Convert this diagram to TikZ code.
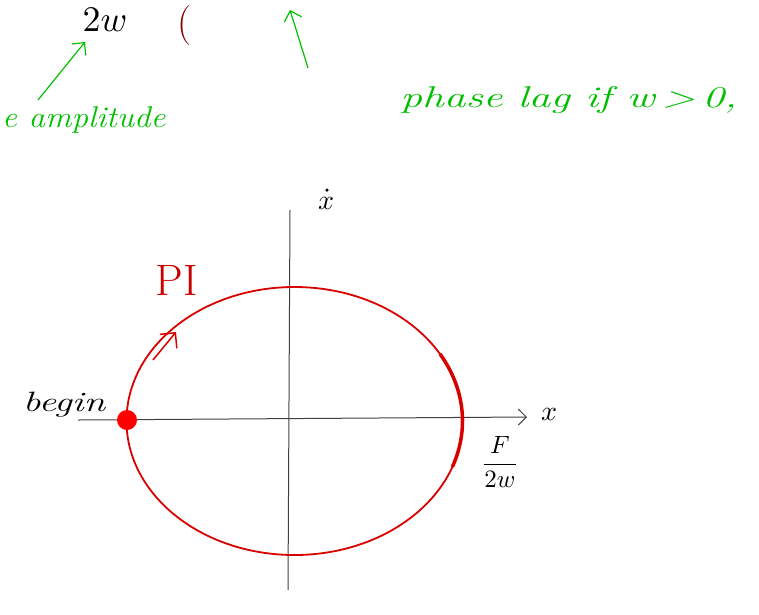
\documentclass[tikz,border=0pt]{standalone}
\usetikzlibrary{arrows.meta,calc}
\begin{document}
\begin{tikzpicture}[x=1pt,y=-1pt,
  hand/.style={font=\fontsize{30}{32}\selectfont\itshape},
  grn/.style={green!75!black, line width=1.2pt},
  axisline/.style={draw=black!75, line width=1pt},
  curve/.style={draw=red!85!black, line width=1.8pt}]
\useasboundingbox (0,0) rectangle (759,614);
% top fragments
\node[scale=3.6, text=black] (tw) at (105,20) {$2w$};
\node[font=\fontsize{40}{42}\selectfont, text=red!50!black] (par) at (185,26) {(};
% green annotations
\node[hand, text=green!75!black, anchor=west, inner sep=0pt, xscale=1.1] (amp) at (2,120) {e amplitude};
\node[hand, text=green!75!black, anchor=west, inner sep=0pt, xscale=1.45] (lag) at (400,100) {phase lag if w\,>\,0,};
\coordinate (ampA) at (38,100);
\coordinate (ampB) at (85,42);
\draw[grn, -{Straight Barb[length=9pt]}] (ampA) -- (ampB);
\coordinate (lagA) at (308,68);
\coordinate (lagB) at (290,10);
\draw[grn, -{Straight Barb[length=9pt]}] (lagA) -- (lagB);
% axes
\coordinate (xL) at (78,420);
\coordinate (xR) at (527,417);
\coordinate (yT) at (290,210);
\coordinate (yB) at (288,590);
\draw[axisline, -{Straight Barb[length=8pt]}] (xL) -- (xR);
\draw[axisline] (yT) -- (yB);
\node[scale=2.8] (xlab) at (549,414) {$x$};
\node[scale=2.8] (xdot) at (326,203) {$x$};
\fill (xdot.north) ++(1,3) circle[radius=1.8];
% ellipse
\coordinate (ctr) at (294.5,421);
\draw[curve] (ctr) ellipse [x radius=168, y radius=134];
\draw[red!85!black, line width=3.5pt] ($(ctr)+(30:168 and -134)$) arc[start angle=30, end angle=-20, x radius=168, y radius=-134];
% start dot and direction arrow
\node[circle, fill=red, inner sep=0pt, minimum size=20pt] (dot) at (127,420) {};
\coordinate (arrA) at (153,360);
\coordinate (arrB) at (176,332);
\draw[red!85!black, line width=1.5pt, -{Straight Barb[length=11pt]}] (arrA) -- (arrB);
% labels
\node[font=\fontsize{44}{46}\selectfont, text=red!80!black] (pi) at (177,280) {PI};
\node[font=\fontsize{28}{30}\selectfont\itshape, xscale=1.4, inner sep=0pt] (begin) at (64,405) {begin};
\node[scale=2.5] (frac) at (500,462) {$\displaystyle\frac{F}{2w}$};
\end{tikzpicture}
\end{document}
